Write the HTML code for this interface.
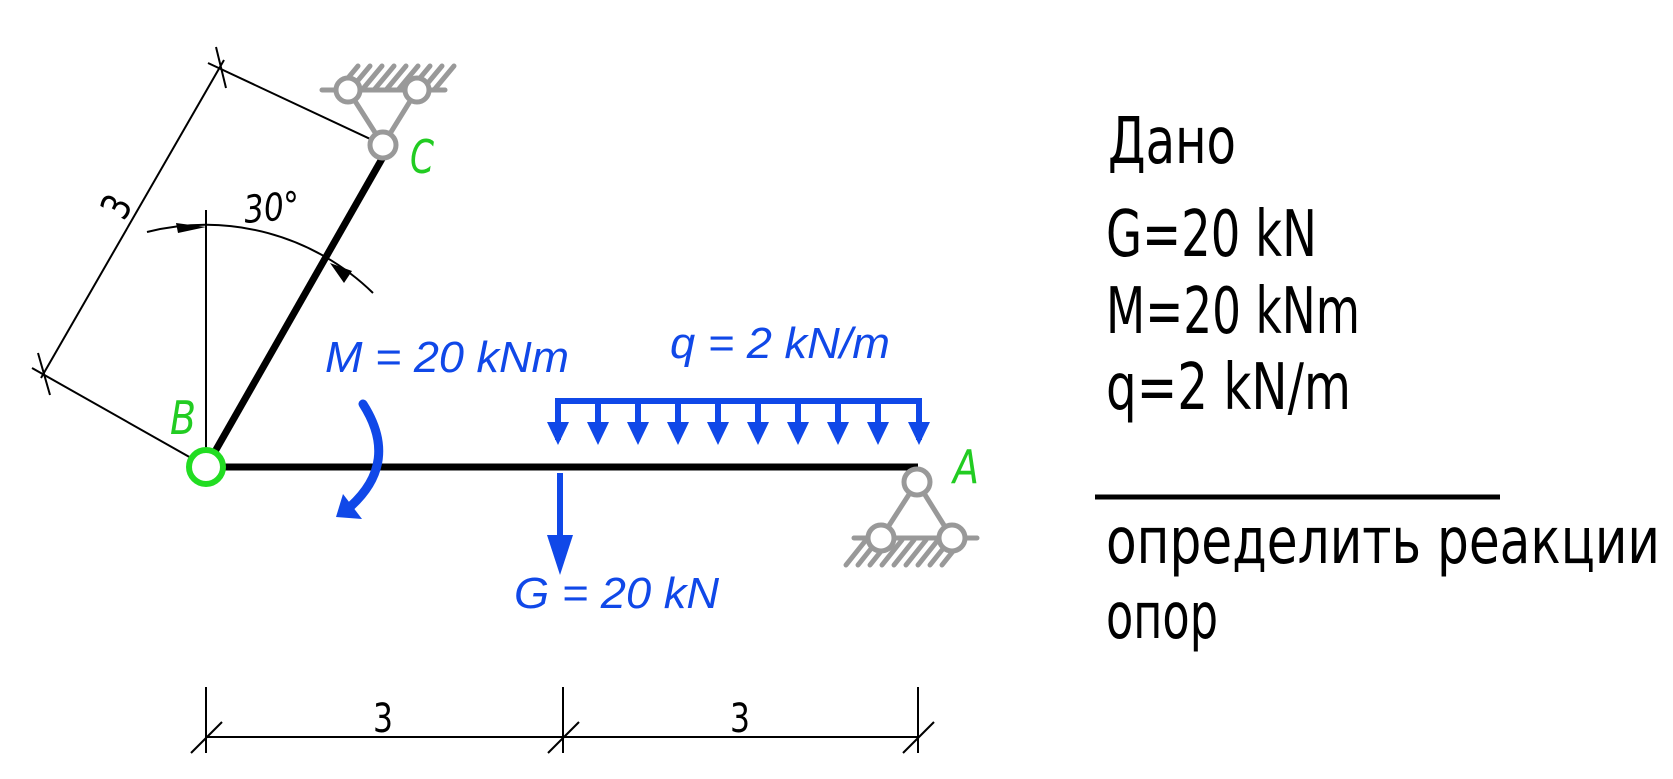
<!DOCTYPE html>
<html><head><meta charset="utf-8"><style>
html,body{margin:0;padding:0;background:#fff;}
svg{display:block;}
</style></head><body>
<svg width="1673" height="779" viewBox="0 0 1673 779" xmlns="http://www.w3.org/2000/svg">
<rect width="1673" height="779" fill="#fff"/>
<g stroke="#000" stroke-width="2" fill="none">
<line x1="383" y1="145" x2="208" y2="63"/>
<line x1="200" y1="463" x2="32" y2="368"/>
<line x1="224" y1="60" x2="41" y2="378"/>
<line x1="216" y1="47" x2="226" y2="88"/>
<line x1="38" y1="353" x2="50" y2="395"/>
<line x1="206" y1="210" x2="206" y2="462"/>
<path d="M147,232 A240,240 0 0 1 373,293"/>
<line x1="206" y1="687" x2="206" y2="753"/>
<line x1="563" y1="687" x2="563" y2="753"/>
<line x1="918" y1="687" x2="918" y2="753"/>
<line x1="206" y1="737" x2="918" y2="737"/>
<line x1="191" y1="753" x2="222" y2="722"/>
<line x1="548" y1="753" x2="579" y2="722"/>
<line x1="903" y1="753" x2="934" y2="722"/>
</g>
<polygon points="206,227 176,223 178,233" fill="#000"/>
<polygon points="330,263 352,271 344,283" fill="#000"/>
<text x="0" y="0" transform="translate(124,222) rotate(-62)" font-family="DejaVu Sans, sans-serif" font-size="40" fill="#000" textLength="20" lengthAdjust="spacingAndGlyphs">3</text>
<text x="0" y="0" transform="translate(245,223) rotate(-5)" font-family="DejaVu Sans, sans-serif" font-style="italic" font-size="38" fill="#000" textLength="56" lengthAdjust="spacingAndGlyphs">30°</text>
<text x="373" y="732" font-family="DejaVu Sans, sans-serif" font-size="40" fill="#000" textLength="20" lengthAdjust="spacingAndGlyphs">3</text>
<text x="730" y="732" font-family="DejaVu Sans, sans-serif" font-size="40" fill="#000" textLength="20" lengthAdjust="spacingAndGlyphs">3</text>
<line x1="213" y1="455" x2="383" y2="157" stroke="#000" stroke-width="7"/>
<line x1="222" y1="467" x2="918" y2="467" stroke="#000" stroke-width="7"/>
<g stroke="#999" stroke-width="5" fill="none" stroke-linecap="round">
<line x1="322" y1="90" x2="445" y2="90"/>
<line x1="338" y1="90" x2="358" y2="66"/>
<line x1="350" y1="90" x2="370" y2="66"/>
<line x1="362" y1="90" x2="382" y2="66"/>
<line x1="374" y1="90" x2="394" y2="66"/>
<line x1="386" y1="90" x2="406" y2="66"/>
<line x1="398" y1="90" x2="418" y2="66"/>
<line x1="410" y1="90" x2="430" y2="66"/>
<line x1="422" y1="90" x2="442" y2="66"/>
<line x1="434" y1="90" x2="454" y2="66"/>
<line x1="348" y1="90" x2="383" y2="145"/>
<line x1="417" y1="90" x2="383" y2="145"/>
<circle cx="348" cy="90" r="12" fill="#fff"/>
<circle cx="417" cy="90" r="12" fill="#fff"/>
<circle cx="383" cy="145" r="13" fill="#fff"/>
</g>
<g stroke="#999" stroke-width="5" fill="none" stroke-linecap="round">
<line x1="854" y1="538" x2="977" y2="538"/>
<line x1="846" y1="565" x2="866" y2="540"/>
<line x1="858" y1="565" x2="878" y2="540"/>
<line x1="870" y1="565" x2="890" y2="540"/>
<line x1="882" y1="565" x2="902" y2="540"/>
<line x1="894" y1="565" x2="914" y2="540"/>
<line x1="906" y1="565" x2="926" y2="540"/>
<line x1="918" y1="565" x2="938" y2="540"/>
<line x1="930" y1="565" x2="950" y2="540"/>
<line x1="942" y1="565" x2="962" y2="540"/>
<line x1="917" y1="482" x2="881" y2="538"/>
<line x1="917" y1="482" x2="952" y2="538"/>
<circle cx="917" cy="482" r="13" fill="#fff"/>
<circle cx="881" cy="538" r="13" fill="#fff"/>
<circle cx="952" cy="538" r="13" fill="#fff"/>
</g>
<circle cx="206" cy="467" r="17" fill="#fff" stroke="#22dd22" stroke-width="6"/>
<g font-family="DejaVu Sans, sans-serif" font-style="italic" font-size="46" fill="#22cc22">
<text x="170" y="434" textLength="26" lengthAdjust="spacingAndGlyphs">B</text>
<text x="410" y="173" textLength="24" lengthAdjust="spacingAndGlyphs">C</text>
<text x="953" y="483" textLength="26" lengthAdjust="spacingAndGlyphs">A</text>
</g>
<g stroke="#1048e8" stroke-width="6" fill="none">
<polyline points="558,440 558,401 919,401 919,440"/>
<line x1="598" y1="401" x2="598" y2="425"/>
<line x1="638" y1="401" x2="638" y2="425"/>
<line x1="678" y1="401" x2="678" y2="425"/>
<line x1="718" y1="401" x2="718" y2="425"/>
<line x1="758" y1="401" x2="758" y2="425"/>
<line x1="798" y1="401" x2="798" y2="425"/>
<line x1="838" y1="401" x2="838" y2="425"/>
<line x1="878" y1="401" x2="878" y2="425"/>
<line x1="560" y1="473" x2="560" y2="545"/>
<path d="M363,404 Q400,462 350,507" stroke-width="9" stroke-linecap="round"/>
</g>
<g fill="#1048e8">
<polygon points="547,422 569,422 558,445"/>
<polygon points="587,422 609,422 598,445"/>
<polygon points="627,422 649,422 638,445"/>
<polygon points="667,422 689,422 678,445"/>
<polygon points="707,422 729,422 718,445"/>
<polygon points="747,422 769,422 758,445"/>
<polygon points="787,422 809,422 798,445"/>
<polygon points="827,422 849,422 838,445"/>
<polygon points="867,422 889,422 878,445"/>
<polygon points="908,422 930,422 919,445"/>
<polygon points="547,535 573,535 560,575"/>
<polygon points="336,517 362,519 343,494"/>
</g>
<g font-family="Liberation Sans, sans-serif" font-style="italic" font-size="44" fill="#1048e8">
<text x="325" y="372" textLength="244" lengthAdjust="spacingAndGlyphs">M = 20 kNm</text>
<text x="670" y="358" textLength="220" lengthAdjust="spacingAndGlyphs">q = 2 kN/m</text>
<text x="514" y="608" textLength="205" lengthAdjust="spacingAndGlyphs">G = 20 kN</text>
</g>
<g font-family="DejaVu Sans, Liberation Sans, sans-serif" font-size="64" fill="#000">
<text x="1108" y="163" textLength="128" lengthAdjust="spacingAndGlyphs">Дано</text>
<text x="1106" y="256" textLength="211" lengthAdjust="spacingAndGlyphs">G=20 kN</text>
<text x="1106" y="333" textLength="254" lengthAdjust="spacingAndGlyphs">M=20 kNm</text>
<text x="1106" y="409" textLength="245" lengthAdjust="spacingAndGlyphs">q=2 kN/m</text>
<text x="1106" y="563" textLength="554" lengthAdjust="spacingAndGlyphs">определить реакции</text>
<text x="1106" y="638" textLength="112" lengthAdjust="spacingAndGlyphs">опор</text>
</g>
<line x1="1095" y1="497" x2="1500" y2="497" stroke="#000" stroke-width="5"/>
</svg>
</body></html>
